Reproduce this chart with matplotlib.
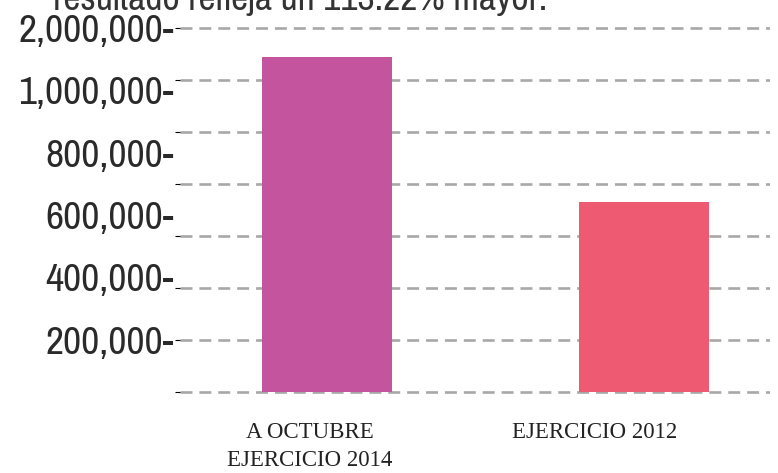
import matplotlib
matplotlib.use("Agg")
import matplotlib.pyplot as plt
import matplotlib.transforms as mtransforms

# ---- data ----
categories = ["A OCTUBRE\nEJERCICIO 2014", "EJERCICIO 2012"]
values = [1287000, 730000]
bar_colors = ["#C4549E", "#EE5A72"]
grid_values = [0, 200000, 400000, 600000, 800000, 1000000, 1200000, 1400000]
label_ticks = [200000, 400000, 600000, 800000, 1000000, 1200000]
label_texts = ["200,000-", "400,000-", "600,000-", "800,000-", "1,000,000-", "2,000,000-"]
note_text = "resultado refleja un 113.22% mayor."

plt.rcParams['lines.scale_dashes'] = False
narrow = ['Archivo Narrow', 'Liberation Sans', 'DejaVu Sans']

W, H = 778, 473
fig = plt.figure(figsize=(W / 100, H / 100), dpi=100)
ax = fig.add_axes([180 / W, 73 / H, 590 / W, 380 / H])

x = list(range(len(categories)))
ax.bar(x, values, width=0.41, color=bar_colors, zorder=3)
ax.set_xlim(-0.464, 1.397)
ax.set_ylim(-30769, 1430769)
ax.set_yticks(grid_values)
ax.tick_params(axis='y', left=False, labelleft=False)
ax.grid(axis='y', color='#a8a8a8', linewidth=1.9, linestyle=(0, (8.6, 5.0)), zorder=0)
ax.set_axisbelow(True)
for s in ax.spines.values():
    s.set_visible(False)

ax.set_xticks(x)
ax.set_xticklabels(categories, family=['Liberation Serif', 'DejaVu Serif'],
                   fontsize=16.5, color='#222222', linespacing=1.45)
ax.tick_params(axis='x', bottom=False, pad=12)
offsets = [-17, -50]
for lab, dx in zip(ax.get_xticklabels(), offsets):
    lab.set_transform(lab.get_transform() +
                      mtransforms.ScaledTranslation(dx / 100, 0, fig.dpi_scale_trans))

# secondary scale carrying the printed value labels
axl = ax.twinx()
axl.set_ylim(6420, 1226300)
axl.set_yticks(label_ticks)
axl.set_yticklabels(label_texts, family=narrow, fontsize=28.5, color='#2a2a2a')
axl.yaxis.set_ticks_position('left')
axl.yaxis.set_label_position('left')
axl.tick_params(axis='y', left=False, right=False, labelleft=True, labelright=False, pad=1)
for s in axl.spines.values():
    s.set_visible(False)
axl.patch.set_visible(False)

fig.text(53 / W, 1 - 10 / H, note_text, family=narrow, fontsize=27,
         color='#333333', va='baseline', ha='left')

fig.savefig("out.png", dpi=100)
